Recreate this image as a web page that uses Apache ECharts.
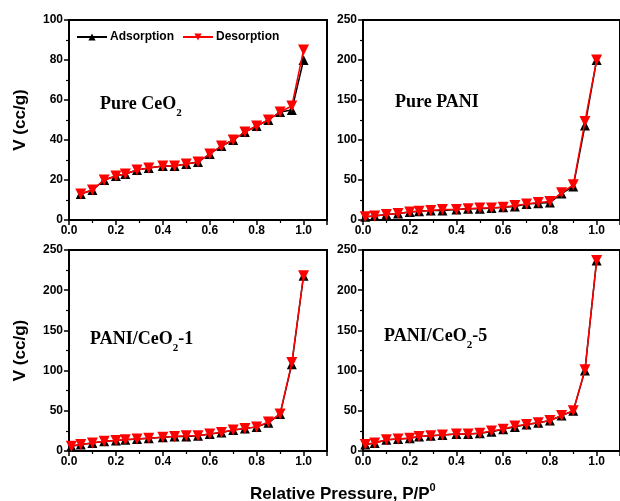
<!DOCTYPE html>
<html>
<head>
<meta charset="utf-8">
<script src="https://cdn.jsdelivr.net/npm/echarts@6/dist/echarts.min.js"></script>
<style>html,body{margin:0;padding:0;background:#fff}#c{width:620px;height:501px}</style>
</head>
<body>
<div id="c"></div>
<script>
// ---- data ----
const ceo2X = [0.05,0.1,0.15,0.2,0.24,0.29,0.34,0.4,0.45,0.5,0.55,0.6,0.65,0.7,0.75,0.8,0.85,0.9,0.95,1.0];
const ceo2Ads = [13,15,20,22,23,25,26,27,27,28,29,33,37,40,44,47,50,54,55,80];
const ceo2Des = [13,15,20,22,23,25,26,27,27,28,29,33,37,40,44,47,50,54,57,85];

const pX = [0.01,0.05,0.1,0.15,0.2,0.24,0.29,0.34,0.4,0.45,0.5,0.55,0.6,0.65,0.7,0.75,0.8,0.85,0.9,0.95,1.0];
const paniAds = [4,5,7,8,10,11,12,12,13,14,14,15,16,17,20,21,22,33,42,118,200];
const paniDes = [4,5,7,8,10,11,12,13,13,14,15,15,16,18,20,22,23,34,44,123,200];
const pc1Ads = [6,8,10,12,13,14,15,16,17,18,18,19,21,23,26,28,30,35,46,108,218];
const pc1Des = [6,8,10,12,13,14,15,16,17,18,19,19,21,23,26,28,30,36,46,110,218];
const pc5Ads = [8,10,14,15,16,18,19,20,21,21,22,24,27,30,33,35,38,44,50,100,237];
const pc5Des = [8,10,14,15,16,18,19,20,21,21,22,25,27,31,33,35,38,44,50,101,237];

const seriesNames = ['Adsorption','Desorption'];
const panelLabels = [['Pure CeO','2',''],['Pure PANI','',''],['PANI/CeO','2','-1'],['PANI/CeO','2','-5']];
const yMax = [100,250,250,250];
const yStep = [20,50,50,50];
const xTitle = ['Relative Pressure, P/P','0'];
const yTitle = 'V (cc/g)';

// ---- layout ----
const SANS = "'Liberation Sans', Arial, sans-serif";
const SERIF = "'Liberation Serif', 'Times New Roman', serif";
const grids = [
  {left:69, top:20, width:258, height:200},
  {left:363, top:20, width:258, height:200},
  {left:69, top:250, width:258, height:201},
  {left:363, top:250, width:258, height:201}
];
const labelPos = [[100,107],[395,105],[90,342],[384,339]];

const zip = (xs, ys) => xs.map((x,i)=>[x, ys[i]]);
const panels = [
  [zip(ceo2X, ceo2Ads), zip(ceo2X, ceo2Des)],
  [zip(pX, paniAds), zip(pX, paniDes)],
  [zip(pX, pc1Ads), zip(pX, pc1Des)],
  [zip(pX, pc5Ads), zip(pX, pc5Des)]
];

const axisCommon = {
  axisLine: {show:true, onZero:false, lineStyle:{color:'#000', width:2}},
  axisTick: {show:true, inside:false, length:5, lineStyle:{color:'#000', width:1.5}},
  minorTick: {show:true, splitNumber:2, length:3, lineStyle:{color:'#000', width:1.2}},
  splitLine: {show:false},
  minorSplitLine: {show:false}
};

const option = {
  animation:false,
  backgroundColor:'#fff',
  grid: grids.map(g => Object.assign({show:true, borderColor:'#000', borderWidth:2, backgroundColor:'transparent'}, g)),
  xAxis: grids.map((g,i)=>Object.assign({
    type:'value', gridIndex:i, min:0, max:1.1, interval:0.2,
    axisLabel:{color:'#000', fontFamily:SANS, fontWeight:'bold', fontSize:12, margin:5,
      showMaxLabel:false, formatter:v=>v.toFixed(1)}
  }, axisCommon)),
  yAxis: grids.map((g,i)=>Object.assign({
    type:'value', gridIndex:i, min:0, max:yMax[i], interval:yStep[i],
    name: (i%2===0) ? yTitle : '',
    nameLocation:'middle', nameGap:40, nameRotate:90,
    nameTextStyle:{color:'#000', fontFamily:SANS, fontWeight:'bold', fontSize:17},
    axisLabel:{color:'#000', fontFamily:SANS, fontWeight:'bold', fontSize:12, margin:6}
  }, axisCommon)),
  legend: {
    left:71, top:26, itemWidth:30, itemHeight:9, itemGap:8,
    data: seriesNames,
    textStyle:{color:'#000', fontFamily:SANS, fontWeight:'bold', fontSize:12, padding:[0,0,0,-2]}
  },
  series: [],
  graphic: []
};

panels.forEach((p,i)=>{
  option.series.push({
    name: seriesNames[0], type:'line', xAxisIndex:i, yAxisIndex:i, data:p[0],
    symbol:'triangle', symbolSize:10, showAllSymbol:true,
    itemStyle:{color:'#000'}, lineStyle:{color:'#000', width:1.5}, z:2
  });
  option.series.push({
    name: seriesNames[1], type:'line', xAxisIndex:i, yAxisIndex:i, data:p[1],
    symbol:'triangle', symbolRotate:180, symbolSize:11, showAllSymbol:true,
    itemStyle:{color:'#ff0000'}, lineStyle:{color:'#ff0000', width:1.5}, z:3
  });
  const L = panelLabels[i];
  option.graphic.push({
    type:'text', left:labelPos[i][0], top:labelPos[i][1]-12, z:100,
    style:{
      text: '{a|' + L[0] + '}' + (L[1] ? '{s|' + L[1] + '}' : '') + (L[2] ? '{a|' + L[2] + '}' : ''),
      rich:{
        a:{fontFamily:SERIF, fontWeight:'bold', fontSize:18, fill:'#000', lineHeight:23, verticalAlign:'top'},
        s:{fontFamily:SERIF, fontWeight:'bold', fontSize:11, fill:'#000', lineHeight:14, padding:[13,0,0,0], verticalAlign:'top'}
      }
    }
  });
});

option.graphic.push({
  type:'text', left:250, top:482, z:100,
  style:{
    text:'{a|' + xTitle[0] + '}{s|' + xTitle[1] + '}',
    rich:{
      a:{fontFamily:SANS, fontWeight:'bold', fontSize:17, fill:'#000', lineHeight:20, verticalAlign:'bottom'},
      s:{fontFamily:SANS, fontWeight:'bold', fontSize:11, fill:'#000', lineHeight:12, padding:[0,0,10,0], verticalAlign:'bottom'}
    }
  }
});

const chart = echarts.init(document.getElementById('c'), null, {renderer:'canvas'});
chart.setOption(option);
</script>
</body>
</html>
